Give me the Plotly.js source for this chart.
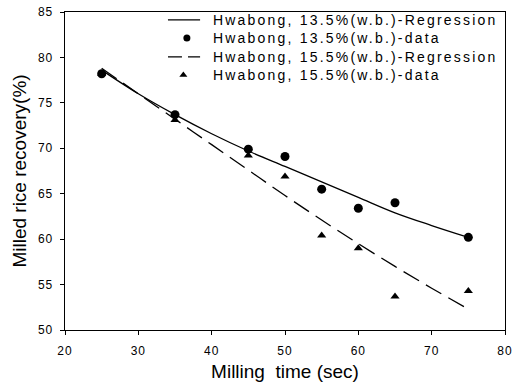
<!DOCTYPE html>
<html>
<head>
<meta charset="utf-8">
<script src="https://cdn.plot.ly/plotly-3.0.1.min.js"></script>
<style>
html,body{margin:0;padding:0;background:#fff;}
#chart{width:512px;height:389px;}
text.annotation-text{letter-spacing:2.2px;}
#chart .xtick text,#chart .ytick text{letter-spacing:1px;}
</style>
</head>
<body>
<div id="chart"></div>
<script>
// Milling time (sec)
const timeData = [25, 35, 45, 50, 55, 60, 65, 75];
const recovery135 = [78.2, 73.7, 69.9, 69.1, 65.5, 63.4, 64.0, 60.2];
const recovery155 = [78.2, 73.1, 69.2, 66.9, 60.4, 59.0, 53.7, 54.3];
// Regression curves
const timeReg = [25, 30, 35, 40, 45, 50, 55, 60, 65, 70, 75];
const reg135 = [78.6, 76.0, 73.7, 71.6, 69.7, 68.0, 66.3, 64.6, 62.9, 61.5, 60.2];
const reg155 = [78.8, 76.0, 73.2, 70.4, 67.6, 64.8, 62.1, 59.5, 57.0, 54.6, 52.3];
const xTicks = [20, 30, 40, 50, 60, 70, 80];
const yTicks = [50, 55, 60, 65, 70, 75, 80, 85];
const names = [
  "Hwabong, 13.5%(w.b.)-Regression",
  "Hwabong, 13.5%(w.b.)-data",
  "Hwabong, 15.5%(w.b.)-Regression",
  "Hwabong, 15.5%(w.b.)-data"
];

const FONT = "Liberation Sans, Arial, Helvetica, sans-serif";
const solidLine = {color: "#000", width: 1.3, shape: "spline"};
const dashLine = {color: "#000", width: 1.3, dash: "18px,8px", shape: "spline"};
const circleMarker = {symbol: "circle", size: 9, color: "#000"};
const triMarker = {symbol: "triangle-up", size: 8, color: "#000"};

const traces = [
  {x: timeReg, y: reg135, mode: "lines", name: names[0], line: solidLine},
  {x: timeData, y: recovery135, mode: "markers", name: names[1], marker: circleMarker},
  {x: timeReg, y: reg155, mode: "lines", name: names[2], line: dashLine},
  {x: timeData, y: recovery155, mode: "markers", name: names[3], marker: triMarker}
];

// Custom legend (positions in plot-area fractions, via hidden overlay axes)
const legX0 = 0.234, legX1 = 0.307, legMid = 0.277, legText = 0.332;
const legRows = [0.975, 0.918, 0.859, 0.802];
const glyphAxes = {xaxis: "x2", yaxis: "y2", showlegend: false, hoverinfo: "skip", cliponaxis: false};
traces.push(Object.assign({x: [legX0, legX1], y: [legRows[0], legRows[0]], mode: "lines", line: {color: "#000", width: 1.3}}, glyphAxes));
traces.push(Object.assign({x: [legMid], y: [legRows[1]], mode: "markers", marker: {symbol: "circle", size: 7, color: "#000"}}, glyphAxes));
traces.push(Object.assign({x: [legX0, legX1], y: [legRows[2], legRows[2]], mode: "lines", line: {color: "#000", width: 1.3, dash: "14px,6px"}}, glyphAxes));
traces.push(Object.assign({x: [legMid - 0.008], y: [legRows[3]], mode: "markers", marker: {symbol: "triangle-up", size: 7, color: "#000"}}, glyphAxes));

const annotations = names.map((n, i) => ({
  text: n, xref: "paper", yref: "paper", x: legText, y: legRows[i],
  xanchor: "left", yanchor: "middle", showarrow: false,
  font: {family: FONT, size: 14, color: "#000"}
}));

const axisCommon = {
  showgrid: false, zeroline: false, showline: true, mirror: true,
  linecolor: "#000", linewidth: 1.3, ticks: "outside", ticklen: 4, tickcolor: "#000", tickwidth: 1,
  tickfont: {family: FONT, size: 12, color: "#000"}
};

const layout = {
  width: 512, height: 389,
  margin: {l: 65, r: 7, t: 12, b: 59},
  paper_bgcolor: "#fff", plot_bgcolor: "#fff",
  showlegend: false,
  annotations: annotations,
  xaxis: Object.assign({}, axisCommon, {
    range: [20, 80], tickvals: xTicks, ticklabelstandoff: 5,
    title: {text: "Milling  time (sec)", font: {family: FONT, size: 19, color: "#000"}, standoff: 8}
  }),
  yaxis: Object.assign({}, axisCommon, {
    range: [50, 85], tickvals: yTicks, ticklabelstandoff: 4,
    title: {text: "Milled rice recovery(%)", font: {family: FONT, size: 19, color: "#000"}, standoff: 8}
  }),
  xaxis2: {overlaying: "x", range: [0, 1], visible: false, fixedrange: true},
  yaxis2: {overlaying: "y", range: [0, 1], visible: false, fixedrange: true}
};

Plotly.newPlot("chart", traces, layout, {displayModeBar: false, staticPlot: true});
</script>
</body>
</html>
